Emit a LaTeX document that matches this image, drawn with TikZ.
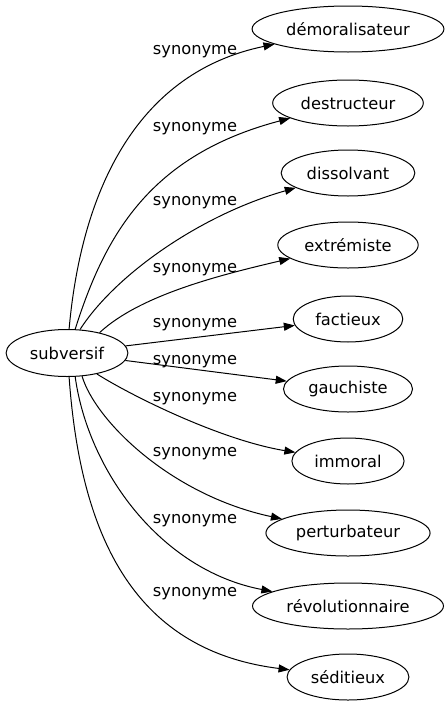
\documentclass[tikz,border=0pt]{standalone}
\usepackage{fontspec}
\setmainfont{DejaVu Sans}
\usetikzlibrary{arrows.meta,shapes.geometric}

\tikzset{
  word/.style={draw,ellipse,line width=.75pt,inner xsep=4.5pt,inner ysep=0pt,minimum height=34.5pt},
  rel/.style={-{Triangle[length=8.25pt,width=6pt]},line width=.75pt},
  lbl/.style={inner sep=0pt}
}

\begin{document}
\begin{tikzpicture}[x=.75pt,y=-.75pt,font=\fontsize{12.2}{14}\selectfont]
\useasboundingbox (0,0) rectangle (448,707);
\node [word,minimum height=35.25pt] (subversif) at (67,353) {subversif};
\node [word] (demoralisateur) at (348,29) {démoralisateur};
\node [word] (destructeur) at (348,103) {destructeur};
\node [word] (dissolvant) at (348,173) {dissolvant};
\node [word] (extremiste) at (348,245) {extrémiste};
\node [word] (factieux) at (348,319) {factieux};
\node [word] (gauchiste) at (348,389) {gauchiste};
\node [word] (immoral) at (348,461) {immoral};
\node [word] (perturbateur) at (348,533) {perturbateur};
\node [word] (revolutionnaire) at (348,606) {révolutionnaire};
\node [word] (seditieux) at (348,677) {séditieux};
% labels
\node [lbl] (l1) at (195,52) {synonyme};
\node [lbl] (l2) at (195,129) {synonyme};
\node [lbl] (l3) at (195,203) {synonyme};
\node [lbl] (l4) at (195,270) {synonyme};
\node [lbl] (l5) at (195,325) {synonyme};
\node [lbl] (l6) at (195,362) {synonyme};
\node [lbl] (l7) at (195,399) {synonyme};
\node [lbl] (l8) at (195,454) {synonyme};
\node [lbl] (l9) at (195,521) {synonyme};
\node [lbl] (l10) at (195,594) {synonyme};
% edges
\draw [rel] (subversif.85) .. controls (82,185) and (140,72) .. (demoralisateur);
\draw [rel] (subversif.71) .. controls (105,235) and (150,155) .. (destructeur);
\draw [rel] (subversif.61) .. controls (115,275) and (200,215) .. (dissolvant);
\draw [rel] (subversif.32) .. controls (140,295) and (220,275) .. (extremiste);
\draw [rel] (subversif) -- (factieux);
\draw [rel] (subversif) -- (gauchiste);
\draw [rel] (subversif.-35) .. controls (130,395) and (220,440) .. (immoral);
\draw [rel] (subversif.-57) .. controls (95,420) and (170,495) .. (perturbateur);
\draw [rel] (subversif.-71) .. controls (88,470) and (160,570) .. (revolutionnaire);
\draw [rel] (subversif.-85) .. controls (80,530) and (130,650) .. (seditieux);
\end{tikzpicture}
\end{document}
